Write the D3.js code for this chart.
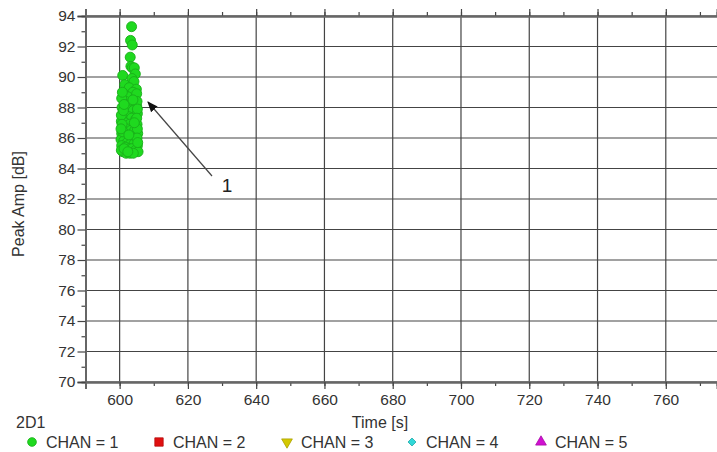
<!DOCTYPE html>
<html>
<head>
<meta charset="utf-8">
<script src="https://cdn.jsdelivr.net/npm/d3@7"></script>
<style>
  body { margin: 0; background: #fff; }
  svg { font-family: "Liberation Sans", Arial, sans-serif; }
</style>
</head>
<body>
<div id="chart"></div>
<script>
// hit data (CHAN = 1 only)
const hitTime = [603.5, 603.2, 603.7, 603.1, 603.3, 603.7, 604.3, 600.9, 604.6, 603.6,
  604.2, 601.5, 602.8, 604.9, 603.9, 601.2, 602.4, 604.5, 601.8, 603.0,
  605.0, 600.7, 602.1, 604.0, 605.2, 601.0, 602.6, 603.5, 604.7, 600.5,
  601.6, 602.9, 605.1, 600.8, 602.0, 603.3, 604.4, 605.3, 600.6, 601.4,
  602.5, 603.8, 604.9, 600.4, 601.2, 602.2, 603.1, 604.2, 605.2, 600.6,
  601.7, 602.8, 603.6, 604.7, 605.4, 600.9, 601.9, 603.0, 604.0, 600.5,
  601.3, 602.4, 600.5, 600.6, 600.7, 601.0, 600.4, 601.1, 600.8, 601.3,
  605.0, 605.1, 605.2, 605.0, 605.2, 605.1, 605.3, 603.9, 604.3, 602.7];
const hitAmp = [93.3, 92.4, 92.1, 91.3, 90.7, 90.6, 90.6, 90.1, 90.2, 89.9,
  89.7, 89.5, 89.3, 89.2, 89.0, 88.9, 88.7, 88.6, 88.4, 88.2,
  88.1, 88.0, 87.9, 87.8, 87.6, 87.5, 87.4, 87.3, 87.2, 87.1,
  87.0, 86.9, 86.9, 86.7, 86.6, 86.5, 86.5, 86.3, 86.3, 86.2,
  86.1, 86.0, 85.9, 85.9, 85.8, 85.7, 85.6, 85.6, 85.5, 85.5,
  85.4, 85.3, 85.3, 85.2, 85.1, 85.1, 85.0, 85.0, 85.0, 85.2,
  85.3, 85.1, 87.5, 88.6, 86.9, 86.4, 86.6, 87.8, 89.0, 88.2,
  88.9, 88.4, 87.9, 87.3, 86.6, 86.0, 85.7, 88.5, 87.0, 86.2];

const xTicks = [600, 620, 640, 660, 680, 700, 720, 740, 760];
const yTicks = [70, 72, 74, 76, 78, 80, 82, 84, 86, 88, 90, 92, 94];
const legendLabels = ["CHAN = 1", "CHAN = 2", "CHAN = 3", "CHAN = 4", "CHAN = 5"];
const legendColors = ["#1fd91f", "#e01010", "#d4c800", "#30d8d8", "#d010d0"];

const width = 717, height = 452;
const svg = d3.select("#chart").append("svg")
  .attr("width", width).attr("height", height);

const x = d3.scaleLinear().domain([590, 775]).range([85.5, 717]);
const y = d3.scaleLinear().domain([70, 94]).range([382, 16]);

// grid
svg.append("g").selectAll("line").data(xTicks).join("line")
  .attr("x1", d => x(d)).attr("x2", d => x(d))
  .attr("y1", y(70)).attr("y2", y(94))
  .attr("stroke", "#444").attr("stroke-width", 1.2);
svg.append("g").selectAll("line").data(yTicks).join("line")
  .attr("x1", x(590)).attr("x2", x(775))
  .attr("y1", d => y(d)).attr("y2", d => y(d))
  .attr("stroke", "#444").attr("stroke-width", 1.2);

// axes
const xMinor = d3.range(590, 776, 10);
const yMinor = d3.range(71, 94, 2);

const bottomAxis = svg.append("g").attr("transform", `translate(0,${y(70)})`);
bottomAxis.call(d3.axisBottom(x).tickValues(xMinor).tickSize(4).tickFormat(""));
bottomAxis.append("g").call(d3.axisBottom(x).tickValues(xTicks).tickSize(7).tickPadding(5).tickFormat(d3.format("d")));

const topAxis = svg.append("g").attr("transform", `translate(0,${y(94)})`);
topAxis.call(d3.axisTop(x).tickValues(xMinor).tickSize(4).tickFormat(""));
topAxis.append("g").call(d3.axisTop(x).tickValues(xTicks).tickSize(7).tickFormat(""));

const leftAxis = svg.append("g").attr("transform", `translate(${x(590)},0)`);
leftAxis.call(d3.axisLeft(y).tickValues(yMinor).tickSize(4).tickFormat(""));
leftAxis.append("g").call(d3.axisLeft(y).tickValues(yTicks).tickSize(8).tickPadding(2).tickFormat(d3.format("d")));

svg.selectAll(".domain").attr("stroke", "#666").attr("stroke-width", 2);
svg.selectAll(".tick line").attr("stroke", "#444").attr("stroke-width", 1.2);
svg.selectAll(".tick text").attr("fill", "#333").style("font-size", "15.5px");

// points
svg.append("g").selectAll("circle").data(hitTime).join("circle")
  .attr("cx", (d, i) => x(d))
  .attr("cy", (d, i) => y(hitAmp[i]))
  .attr("r", 5)
  .attr("fill", "#1fd91f")
  .attr("stroke", "#1aae1a")
  .attr("stroke-width", 0.9);

// annotation
svg.append("defs").append("marker")
  .attr("id", "arr").attr("viewBox", "0 0 10 10")
  .attr("refX", 9).attr("refY", 5)
  .attr("markerWidth", 9).attr("markerHeight", 9)
  .attr("orient", "auto")
  .append("path").attr("d", "M0,1 L10,5 L0,9 Z").attr("fill", "#111");
svg.append("line")
  .attr("x1", 212).attr("y1", 176).attr("x2", 148).attr("y2", 102)
  .attr("stroke", "#444").attr("stroke-width", 1.2)
  .attr("marker-end", "url(#arr)");
svg.append("text").attr("x", 227).attr("y", 192)
  .attr("text-anchor", "middle").style("font-size", "19px").attr("fill", "#222")
  .text("1");

// axis titles
svg.append("text").attr("transform", "translate(24,204) rotate(-90)")
  .attr("text-anchor", "middle").style("font-size", "16px").attr("fill", "#333")
  .text("Peak Amp [dB]");
svg.append("text").attr("x", 380).attr("y", 428)
  .attr("text-anchor", "middle").style("font-size", "16px").attr("fill", "#333")
  .text("Time [s]");
svg.append("text").attr("x", 16).attr("y", 428)
  .style("font-size", "16px").attr("fill", "#333").text("2D1");

// legend
const legendX = [32, 159, 287, 412, 541];
const symbols = [d3.symbolCircle, d3.symbolSquare, d3.symbolTriangle, d3.symbolSquare, d3.symbolTriangle];
const sizes = [60, 70, 50, 32, 50];
const rotations = [0, 0, 180, 45, 0];
const lg = svg.append("g");
legendLabels.forEach((lab, i) => {
  lg.append("path")
    .attr("d", d3.symbol().type(symbols[i]).size(sizes[i]))
    .attr("transform", `translate(${legendX[i]},442) rotate(${rotations[i]})`)
    .attr("fill", legendColors[i])
    .attr("stroke", d3.color(legendColors[i]).darker(0.6))
    .attr("stroke-width", 0.8);
  lg.append("text").attr("x", legendX[i] + 14).attr("y", 448)
    .style("font-size", "16px").attr("fill", "#333").text(lab);
});
</script>
</body>
</html>
